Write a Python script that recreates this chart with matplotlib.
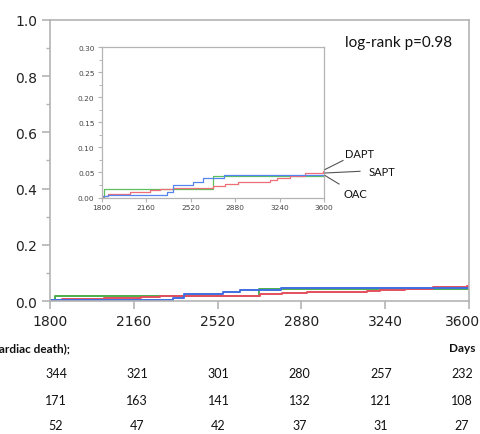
import numpy as np
import matplotlib
matplotlib.use('Agg')
import matplotlib.pyplot as plt
from matplotlib import transforms
from matplotlib.lines import Line2D

# cumulative incidence of cardiac death
dapt_days = [1800, 1816, 1852, 2030, 2192, 2273, 2378, 2701, 2798, 2903, 3162, 3218, 3323, 3444, 3590, 3600]
dapt_vals = [0.0, 0.003, 0.007, 0.011, 0.0155, 0.0175, 0.0195, 0.0235, 0.027, 0.031, 0.035, 0.038, 0.042, 0.049, 0.053, 0.053]

sapt_days = [1800, 1850, 2327, 2375, 2542, 2618, 2792, 3600]
sapt_vals = [0.002, 0.004, 0.0115, 0.025, 0.0315, 0.038, 0.0455, 0.0455]

oac_days = [1800, 1823, 2698, 3600]
oac_vals = [0.0, 0.017, 0.042, 0.043]

xticks = [1800, 2160, 2520, 2880, 3240, 3600]
risk_dapt = [344, 321, 301, 280, 257, 232]
risk_sapt = [171, 163, 141, 132, 121, 108]
risk_oac = [52, 47, 42, 37, 31, 27]

W, H = 480, 435
fig = plt.figure(figsize=(W / 100, H / 100), dpi=100)


def fx(px):
    return px / W


def fy(py):
    return 1 - py / H


spine_c = '#b4b4b4'
red, green, blue = '#e4505c', '#4cae4c', '#3f6fe0'

ax = fig.add_axes([fx(50), fy(302), fx(469) - fx(50), fy(21) - fy(302)])
ax.step(oac_days, oac_vals, where='post', color=green, lw=1.4)
ax.step(dapt_days, dapt_vals, where='post', color=red, lw=1.4)
ax.step(sapt_days, sapt_vals, where='post', color=blue, lw=1.4)
ax.set_xlim(1800, 3600)
ax.set_ylim(0, 1.0)
ax.set_xticks(xticks)
ax.set_yticks(np.arange(0, 1.01, 0.2))
ax.set_yticks(np.arange(0.1, 1.0, 0.2), minor=True)
ax.yaxis.set_major_formatter(matplotlib.ticker.FormatStrFormatter('%.1f'))
for s in ax.spines.values():
    s.set_color(spine_c)
    s.set_linewidth(1.2)
ax.tick_params(axis='both', which='major', length=6, color=spine_c, width=1.2,
               labelsize=10, labelcolor='#222222', pad=3)
ax.tick_params(axis='y', which='minor', length=3, color=spine_c, width=1.0)
# last x label sits a bit left so it stays inside the image
fig.canvas.draw()
last = ax.get_xticklabels()[-1]
last.set_transform(last.get_transform() + transforms.ScaledTranslation(-6 / 100, 0, fig.dpi_scale_trans))

ax.text(fx(345), fy(43), 'log-rank p=0.98', transform=fig.transFigure,
        fontsize=11, family='Lato', va='center', ha='left', color='#111111')

# inset
axi = fig.add_axes([fx(101.5), fy(198.5), fx(324) - fx(101.5), fy(48.3) - fy(198.5)])
axi.step(oac_days, oac_vals, where='post', color='#5cc05c', lw=0.9)
axi.step(dapt_days, dapt_vals, where='post', color='#ee6f78', lw=0.9)
axi.step(sapt_days, sapt_vals, where='post', color='#5585ee', lw=0.9)
axi.set_xlim(1800, 3600)
axi.set_ylim(0, 0.30)
axi.set_xticks(xticks)
axi.set_yticks(np.arange(0, 0.301, 0.05))
axi.set_yticks(np.arange(0.025, 0.30, 0.05), minor=True)
axi.yaxis.set_major_formatter(matplotlib.ticker.FormatStrFormatter('%.2f'))
for s in axi.spines.values():
    s.set_color(spine_c)
    s.set_linewidth(0.9)
axi.tick_params(axis='both', which='major', length=3, color=spine_c, width=0.8,
                labelsize=5.3, labelcolor='#444444', pad=2)
axi.tick_params(axis='y', which='minor', length=2, color=spine_c, width=0.7)

# group labels with leader lines
for (x0, y0, x1, y1) in [(325, 170.5, 343, 161.5), (325, 174, 360, 172.3), (325, 176.5, 339, 185)]:
    fig.add_artist(Line2D([fx(x0), fx(x1)], [fy(y0), fy(y1)], color='#555555', lw=0.8,
                          transform=fig.transFigure))
for lab, x, y in [('DAPT', 345.5, 155), ('SAPT', 369, 172), ('OAC', 344, 195)]:
    fig.text(fx(x), fy(y), lab, fontsize=8, family='Lato', va='center', ha='left', color='#111111')

# number at risk table
fig.text(fx(70), fy(349), 'Number at risk (cardiac death);', fontsize=8.5, family='Lato',
         weight='bold', ha='right', va='center', color='#111111')
fig.text(fx(462), fy(349), 'Days', fontsize=8.5, family='Lato',
         weight='bold', ha='center', va='center', color='#111111')
tr = transforms.blended_transform_factory(ax.transData, fig.transFigure)
col_x = np.linspace(1826, 3570, len(xticks))
for row, py in [(risk_dapt, 374), (risk_sapt, 401), (risk_oac, 426)]:
    for xv, n in zip(col_x, row):
        ax.text(xv, fy(py), str(n), transform=tr, fontsize=9, family='Lato',
                ha='center', va='center', color='#111111', clip_on=False)

fig.savefig('out.png', dpi=100)
